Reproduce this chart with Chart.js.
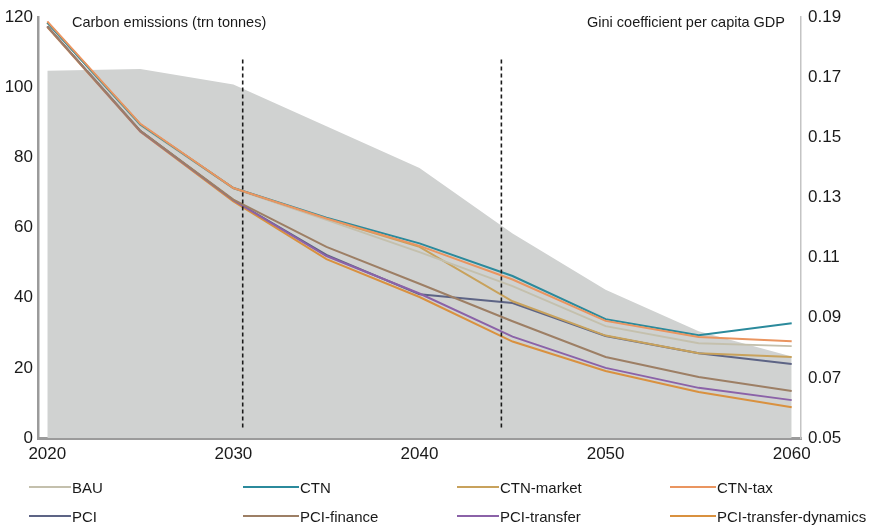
<!DOCTYPE html>
<html>
<head>
<meta charset="utf-8">
<title>Carbon emissions and Gini coefficient</title>
<script src="https://cdn.jsdelivr.net/npm/chart.js@4/dist/chart.umd.min.js"></script>
<style>
  html, body { margin: 0; padding: 0; background: #fff; }
  #wrap { position: relative; width: 877px; height: 528px; }
  #legend {
    position: absolute; left: 0; top: 474px; width: 877px;
    font: 15px "Liberation Sans", Arial, sans-serif; color: #1a1a1a;
  }
  .lg-item { position: absolute; display: flex; align-items: center; height: 26px; white-space: nowrap; }
  .lg-line { display: inline-block; height: 2px; margin-right: 1px; }
</style>
</head>
<body>
<div id="wrap">
  <canvas id="chart"></canvas>
  <div id="legend"></div>
</div>
<script>
// ---- data ----
const years = [2020, 2025, 2030, 2035, 2040, 2045, 2050, 2055, 2060];
const tickYears = [2020, 2030, 2040, 2050, 2060];
const giniTicks = [0.05, 0.07, 0.09, 0.11, 0.13, 0.15, 0.17, 0.19];

const seriesNames = ['BAU', 'CTN', 'CTN-market', 'CTN-tax', 'PCI', 'PCI-finance', 'PCI-transfer', 'PCI-transfer-dynamics'];
const seriesColors = ['#c4c0ad', '#2b8a9c', '#c8a25c', '#ea9560', '#5d6485', '#9d7f65', '#8b62a8', '#d9913f'];
// stacking of the lines where they overlap (lower = drawn on top)
const seriesOrder = [4, 3, 4, 2, 4, 2, 3, 3];

const bau                 = [118.5, 89.2, 71.2, 62.2, 53.0, 43.3, 31.9, 27.0, 26.2];
const ctn                 = [118.5, 89.4, 71.3, 62.8, 55.5, 46.2, 33.9, 29.3, 32.7];
const ctnMarket           = [118.5, 89.4, 71.3, 62.5, 54.5, 39.0, 29.2, 24.2, 23.1];
const ctnTax              = [118.8, 89.6, 71.3, 62.6, 54.8, 45.2, 33.4, 28.8, 27.6];
const pci                 = [117.4, 87.6, 67.8, 52.2, 41.0, 38.5, 29.1, 24.2, 21.1];
const pciFinance          = [117.4, 87.6, 68.0, 54.5, 44.0, 33.3, 23.1, 17.4, 13.4];
const pciTransfer         = [117.4, 87.5, 67.8, 51.9, 41.2, 28.9, 20.0, 14.3, 10.8];
const pciTransferDynamics = [117.2, 87.3, 67.5, 51.0, 40.2, 27.5, 19.1, 13.1, 8.8];

const seriesValues = [bau, ctn, ctnMarket, ctnTax, pci, pciFinance, pciTransfer, pciTransferDynamics];

// Gini coefficient (right axis), drawn as the grey area
const gini = [0.1722, 0.1728, 0.1676, 0.1537, 0.1398, 0.1180, 0.0993, 0.0855, 0.0771];

// dashed period markers
const markerYears = [2030.5, 2044.4];
const markerSpan = [3, 108.5];

const FONT = '"Liberation Sans", Arial, sans-serif';
const TEXT = '#1a1a1a';

function toPoints(xs, ys) {
  return xs.map(function(x, i) { return { x: x, y: ys[i] }; });
}

const datasets = [];

seriesNames.forEach(function(name, i) {
  datasets.push({
    label: name,
    data: toPoints(years, seriesValues[i]),
    yAxisID: 'y',
    borderColor: seriesColors[i],
    backgroundColor: seriesColors[i],
    borderWidth: 2,
    pointRadius: 0,
    tension: 0,
    fill: false,
    order: seriesOrder[i]
  });
});

markerYears.forEach(function(yr) {
  datasets.push({
    label: '',
    data: markerSpan.map(function(v) { return { x: yr, y: v }; }),
    yAxisID: 'y',
    borderColor: '#1a1a1a',
    borderWidth: 1.6,
    borderDash: [4, 3],
    pointRadius: 0,
    fill: false,
    order: 1
  });
});

datasets.push({
  label: 'Gini',
  data: toPoints(years, gini),
  yAxisID: 'y2',
  borderWidth: 0,
  borderColor: 'rgba(0,0,0,0)',
  backgroundColor: '#d0d2d1',
  pointRadius: 0,
  tension: 0,
  fill: 'start',
  order: 9
});

// axis captions at the top of the plot
const captions = {
  id: 'captions',
  afterDraw(chart) {
    const ctx = chart.ctx;
    const a = chart.chartArea;
    ctx.save();
    ctx.font = '14.5px ' + FONT;
    ctx.fillStyle = TEXT;
    ctx.textBaseline = 'middle';
    ctx.textAlign = 'left';
    ctx.fillText('Carbon emissions (trn tonnes)', a.left + 34, a.top + 6);
    ctx.textAlign = 'right';
    ctx.fillText('Gini coefficient per capita GDP', a.right - 16, a.top + 6);
    ctx.restore();
  }
};

new Chart(document.getElementById('chart'), {
  type: 'line',
  data: { datasets: datasets },
  options: {
    responsive: true,
    maintainAspectRatio: false,
    animation: false,
    layout: { padding: { top: 16, left: 0, right: 0, bottom: 0 } },
    plugins: {
      legend: { display: false },
      tooltip: { enabled: false }
    },
    scales: {
      x: {
        type: 'linear',
        min: 2019.5,
        max: 2060.5,
        afterBuildTicks: function(s) { s.ticks = tickYears.map(function(v) { return { value: v }; }); },
        afterFit: function(s) { s.height = 90; },
        grid: { display: false, drawTicks: false },
        border: { display: true, color: '#9b9b9b', width: 3 },
        ticks: {
          color: TEXT, font: { family: FONT, size: 17 }, padding: 6, maxRotation: 0,
          callback: function(v) { return String(v); }
        }
      },
      y: {
        position: 'left',
        min: 0,
        max: 120,
        afterFit: function(s) { s.width = 38; },
        grid: { display: false, drawTicks: false },
        border: { display: true, color: '#9b9b9b', width: 2.5 },
        ticks: { stepSize: 20, color: TEXT, font: { family: FONT, size: 17 }, padding: 5 }
      },
      y2: {
        position: 'right',
        min: 0.05,
        max: 0.19,
        afterBuildTicks: function(s) { s.ticks = giniTicks.map(function(v) { return { value: v }; }); },
        afterFit: function(s) { s.width = 76; },
        grid: { display: false, drawTicks: false },
        border: { display: true, color: '#c4c4c4', width: 1.5 },
        ticks: {
          color: TEXT, font: { family: FONT, size: 17 }, padding: 7,
          callback: function(v) { return v.toFixed(2); }
        }
      }
    }
  },
  plugins: [captions]
});

// legend: two rows of four
const legendCols = [29, 243, 457, 670];
const legendRows = [0, 29];
const legendLine = [42, 56, 42, 46];
const legend = document.getElementById('legend');
seriesNames.forEach(function(name, i) {
  const col = i % 4, row = Math.floor(i / 4);
  const item = document.createElement('div');
  item.className = 'lg-item';
  item.style.left = legendCols[col] + 'px';
  item.style.top = legendRows[row] + 'px';
  const ln = document.createElement('span');
  ln.className = 'lg-line';
  ln.style.width = legendLine[col] + 'px';
  ln.style.background = seriesColors[i];
  const tx = document.createElement('span');
  tx.textContent = name;
  item.appendChild(ln);
  item.appendChild(tx);
  legend.appendChild(item);
});
</script>
</body>
</html>
